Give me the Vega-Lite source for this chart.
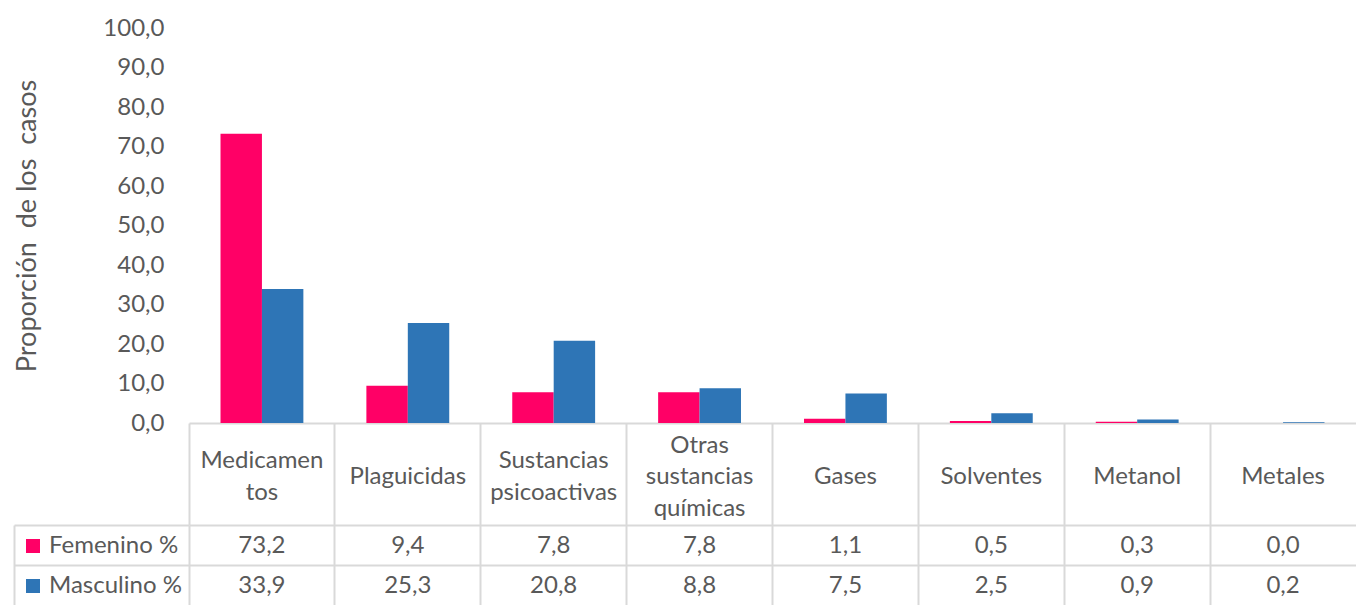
{
  "$schema": "https://vega.github.io/schema/vega-lite/v6.json",
  "padding": {"left": 13, "top": 16, "right": 0, "bottom": 0},
  "background": "white",
  "bounds": "flush",
  "spacing": 0,
  "config": {
    "locale": {"number": {"decimal": ",", "thousands": ".", "grouping": [3], "currency": ["", ""]}},
    "view": {"stroke": null},
    "font": "Lato",
    "axis": {"labelFont": "Lato", "titleFont": "Lato", "labelColor": "#595959", "titleColor": "#595959"},
    "legend": {"labelFont": "Lato", "labelColor": "#595959"}
  },
  "datasets": {
    "rows": [
      {"cat": "Medicamentos", "sex": "Femenino %", "value": 73.2},
      {"cat": "Medicamentos", "sex": "Masculino %", "value": 33.9},
      {"cat": "Plaguicidas", "sex": "Femenino %", "value": 9.4},
      {"cat": "Plaguicidas", "sex": "Masculino %", "value": 25.3},
      {"cat": "Sustancias psicoactivas", "sex": "Femenino %", "value": 7.8},
      {"cat": "Sustancias psicoactivas", "sex": "Masculino %", "value": 20.8},
      {"cat": "Otras sustancias químicas", "sex": "Femenino %", "value": 7.8},
      {"cat": "Otras sustancias químicas", "sex": "Masculino %", "value": 8.8},
      {"cat": "Gases", "sex": "Femenino %", "value": 1.1},
      {"cat": "Gases", "sex": "Masculino %", "value": 7.5},
      {"cat": "Solventes", "sex": "Femenino %", "value": 0.5},
      {"cat": "Solventes", "sex": "Masculino %", "value": 2.5},
      {"cat": "Metanol", "sex": "Femenino %", "value": 0.3},
      {"cat": "Metanol", "sex": "Masculino %", "value": 0.9},
      {"cat": "Metales", "sex": "Femenino %", "value": 0.0},
      {"cat": "Metales", "sex": "Masculino %", "value": 0.2}
    ],
    "cats": [
      {"cat": "Medicamentos", "label": ["Medicamen", "tos"]},
      {"cat": "Plaguicidas", "label": ["Plaguicidas"]},
      {"cat": "Sustancias psicoactivas", "label": ["Sustancias", "psicoactivas"]},
      {"cat": "Otras sustancias químicas", "label": ["Otras", "sustancias", "químicas"]},
      {"cat": "Gases", "label": ["Gases"]},
      {"cat": "Solventes", "label": ["Solventes"]},
      {"cat": "Metanol", "label": ["Metanol"]},
      {"cat": "Metales", "label": ["Metales"]}
    ]
  },
  "resolve": {"legend": {"color": "independent"}},
  "vconcat": [
    {
      "width": 1167,
      "height": 395,
      "data": {"name": "rows"},
      "mark": {"type": "bar"},
      "encoding": {
        "x": {
          "field": "cat", "type": "nominal",
          "scale": {"type": "band", "domain": ["Medicamentos", "Plaguicidas", "Sustancias psicoactivas", "Otras sustancias químicas", "Gases", "Solventes", "Metanol", "Metales"], "paddingInner": 0.432, "paddingOuter": 0.216},
          "axis": {"labels": false, "ticks": false, "title": null, "domainColor": "#D9D9D9", "domainWidth": 2}
        },
        "xOffset": {"field": "sex", "type": "nominal", "scale": {"domain": ["Femenino %", "Masculino %"]}},
        "y": {
          "field": "value", "type": "quantitative",
          "scale": {"domain": [0, 100]},
          "axis": {
            "values": [0, 10, 20, 30, 40, 50, 60, 70, 80, 90, 100],
            "format": ".1f", "grid": false, "domain": false, "ticks": false,
            "labelFontSize": 24, "labelPadding": 25,
            "title": "Proporción\u00a0 de los\u00a0 casos",
            "titleFontSize": 27, "titleFontWeight": "normal", "titlePadding": 61
          }
        },
        "color": {
          "field": "sex", "type": "nominal",
          "scale": {"domain": ["Femenino %", "Masculino %"], "range": ["#FF0066", "#2E75B6"]},
          "legend": null
        }
      }
    },
    {
      "width": 1167,
      "height": 102,
      "data": {"name": "cats"},
      "mark": {"type": "text", "fontSize": 24, "color": "#595959", "lineHeight": 31.5, "baseline": "middle", "dy": {"expr": "3 - (length(datum.label) - 1) * 15.75"}},
      "encoding": {
        "x": {
          "field": "cat", "type": "nominal",
          "scale": {"type": "band", "domain": ["Medicamentos", "Plaguicidas", "Sustancias psicoactivas", "Otras sustancias químicas", "Gases", "Solventes", "Metanol", "Metales"], "padding": 0},
          "axis": {"labels": false, "ticks": false, "domain": false, "title": null, "grid": true, "gridColor": "#D9D9D9", "gridWidth": 2, "bandPosition": 0}
        },
        "text": {"field": "label"}
      }
    },
    {
      "width": 1167,
      "height": 80,
      "data": {"name": "rows"},
      "encoding": {
        "x": {
          "field": "cat", "type": "nominal",
          "scale": {"type": "band", "domain": ["Medicamentos", "Plaguicidas", "Sustancias psicoactivas", "Otras sustancias químicas", "Gases", "Solventes", "Metanol", "Metales"], "padding": 0},
          "axis": {"labels": false, "ticks": false, "domain": false, "title": null, "grid": true, "gridColor": "#D9D9D9", "gridWidth": 2, "bandPosition": 0}
        },
        "y": {
          "field": "sex", "type": "nominal",
          "scale": {"type": "band", "domain": ["Femenino %", "Masculino %"], "padding": 0},
          "axis": {"labels": false, "title": null, "offset": 175, "tickSize": {"expr": "-175"}, "tickColor": "#D9D9D9", "tickWidth": 2, "domainColor": "#D9D9D9", "domainWidth": 2, "grid": true, "gridColor": "#D9D9D9", "gridWidth": 2, "bandPosition": 0}
        }
      },
      "layer": [
        {
          "mark": {"type": "bar", "opacity": 0},
          "encoding": {
            "color": {
              "field": "sex", "type": "nominal",
              "scale": {"domain": ["Femenino %", "Masculino %"], "range": ["#FF0066", "#2E75B6"]},
              "legend": {"orient": "none", "legendX": -168, "legendY": 9, "title": null, "symbolType": "square", "symbolSize": 196, "symbolOpacity": 1, "symbolStrokeWidth": 0, "labelFontSize": 24, "labelOffset": 4, "rowPadding": 16, "padding": 0}
            }
          }
        },
        {
          "mark": {"type": "text", "fontSize": 24, "color": "#595959", "baseline": "middle", "dy": 1},
          "encoding": {"text": {"field": "value", "type": "quantitative", "format": ".1f"}}
        }
      ]
    }
  ]
}
